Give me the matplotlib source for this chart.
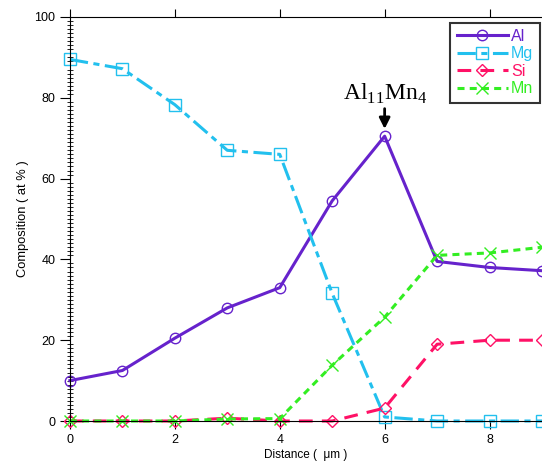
import matplotlib
matplotlib.use("Agg")
import matplotlib.pyplot as plt
from matplotlib.ticker import MultipleLocator

plt.rcParams['font.family'] = ['Liberation Sans', 'DejaVu Sans']
plt.rcParams['mathtext.fontset'] = 'custom'
plt.rcParams['mathtext.rm'] = 'Liberation Serif'

distance = [0, 1, 2, 3, 4, 5, 6, 7, 8, 9]
al = [10, 12.5, 20.5, 28, 33, 54.5, 70.5, 39.5, 38, 37.2]
mg = [89.5, 87.2, 78.3, 67, 66, 31.6, 1, 0, 0, 0]
si = [0, 0, 0, 0.7, 0, 0, 3.2, 19, 20, 20]
mn = [0, 0, 0, 0.5, 0.6, 13.8, 25.7, 41, 41.6, 43]

fig = plt.figure(figsize=(5.42, 4.63), dpi=100)
ax = fig.add_axes([0.129, 0.0907, 0.871, 0.8726])

ax.plot(distance, al, color='#6622cc', lw=2.2, marker='o', ms=7.5,
        mfc='none', mew=1, label='Al', clip_on=False)
ax.plot(distance, mg, color='#22c0ee', lw=2.2, marker='s', ms=8,
        mfc='none', mew=1, dashes=[6, 1.8, 2, 1.8], label='Mg', clip_on=False)
ax.plot(distance, si, color='#ff1166', lw=2.2, marker='D', ms=6,
        mfc='none', mew=1, dashes=[4.5, 3], label='Si', clip_on=False)
ax.plot(distance, mn, color='#33ee22', lw=2.2, marker='x', ms=9,
        mew=1, dashes=[2.3, 1.7], label='Mn', clip_on=False)

ax.annotate(r'Al$_{\mathrm{11}}$Mn$_{\mathrm{4}}$', xy=(6, 72.3), xytext=(6, 78),
            ha='center', va='bottom', fontsize=17, family='Liberation Serif',
            arrowprops=dict(arrowstyle='-|>', color='black', lw=2,
                            mutation_scale=16, shrinkA=0, shrinkB=0))

ax.set_xlim(0, 9)
ax.set_ylim(0, 100)
ax.xaxis.set_major_locator(MultipleLocator(2))
ax.yaxis.set_major_locator(MultipleLocator(20))
ax.yaxis.set_minor_locator(MultipleLocator(1))
ax.tick_params(axis='x', direction='out', top=True, length=6, labelsize=9)
ax.tick_params(axis='y', which='major', direction='out', length=7, labelsize=9)
ax.tick_params(axis='y', which='minor', direction='inout', length=4)
ax.spines['right'].set_visible(False)

ax.set_xlabel('Distance (  \u03bcm )', fontsize=8.5, labelpad=2)
ax.set_ylabel('Composition ( at % )', fontsize=9.3)

leg = ax.legend(loc='upper right', bbox_to_anchor=(0.995, 0.986), fontsize=11.5,
                handlelength=3.2, handletextpad=0.2, frameon=True, fancybox=False,
                borderpad=0.4, labelspacing=0.15, borderaxespad=0)
leg.get_frame().set_edgecolor('black')
leg.get_frame().set_linewidth(1.5)
for txt, line in zip(leg.get_texts(), leg.get_lines()):
    txt.set_color(line.get_color())

fig.savefig('out.png', dpi=100)
